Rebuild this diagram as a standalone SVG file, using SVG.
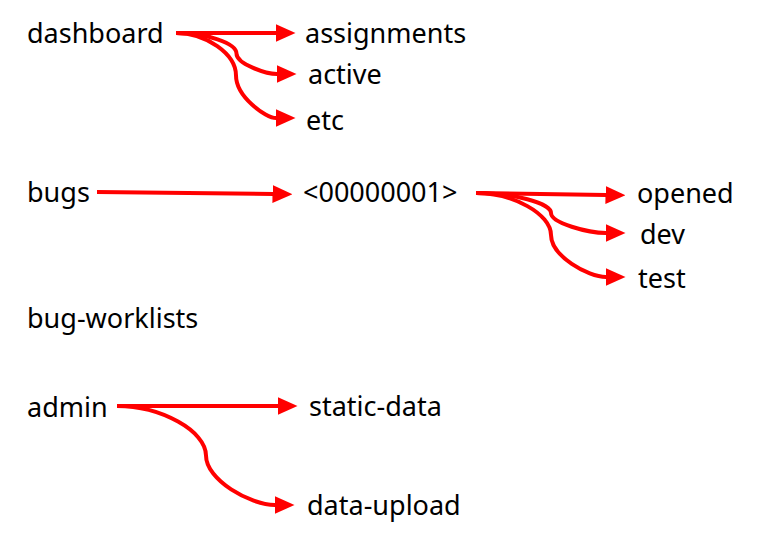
<svg xmlns="http://www.w3.org/2000/svg" width="772" height="542" viewBox="0 0 772 542">
<style>
text{font-family:"Noto Sans","Open Sans","Liberation Sans",sans-serif;font-size:27px;fill:#000}
.c{fill:none;stroke:#FF0000;stroke-width:4}
</style>
<defs>
<marker id="ah" markerUnits="userSpaceOnUse" markerWidth="20" markerHeight="18" viewBox="0 0 20 18" refX="0.5" refY="9" orient="auto">
<path d="M0,0 L20,9 L0,18 z" fill="#FF0000"/>
</marker>
</defs>
<rect width="772" height="542" fill="#fff"/>
<g id="connectors">
<path class="c" marker-end="url(#ah)" d="M176,33 H276"/>
<path class="c" marker-end="url(#ah)" d="M176,33 C206,33 236.5,43 236.5,53.5 C236.5,64 266,74 277,74"/>
<path class="c" marker-end="url(#ah)" d="M176,33 C206,33 236,54 236,75.5 C236,97 266,118 276,118"/>
<path class="c" marker-end="url(#ah)" d="M97,192 L273,194"/>
<path class="c" marker-end="url(#ah)" d="M476,193 L606,195"/>
<path class="c" marker-end="url(#ah)" d="M476,193 C513,193 551,203 551,213 C551,223 588,233 606,233"/>
<path class="c" marker-end="url(#ah)" d="M476,193 C513,193 551,214 551,235 C551,256 588,277 606,277"/>
<path class="c" marker-end="url(#ah)" d="M117,406 H278"/>
<path class="c" marker-end="url(#ah)" d="M117,406 C161,406 206,431 206,455.5 C206,480 250,505 275,505"/>
</g>
<g id="dashboard"><text x="27" y="43">dashboard</text></g>
<g id="assignments"><text x="305" y="43">assignments</text></g>
<g id="active"><text x="308" y="84">active</text></g>
<g id="etc"><text x="306" y="130">etc</text></g>
<g id="bugs"><text x="27" y="202">bugs</text></g>
<g id="bug-id"><text x="303" y="202">&lt;00000001&gt;</text></g>
<g id="opened"><text x="637" y="203">opened</text></g>
<g id="dev"><text x="640" y="244">dev</text></g>
<g id="test"><text x="638" y="288">test</text></g>
<g id="bug-worklists"><text x="27" y="328">bug-worklists</text></g>
<g id="admin"><text x="27" y="417">admin</text></g>
<g id="static-data"><text x="309" y="416">static-data</text></g>
<g id="data-upload"><text x="307" y="515">data-upload</text></g>
</svg>
